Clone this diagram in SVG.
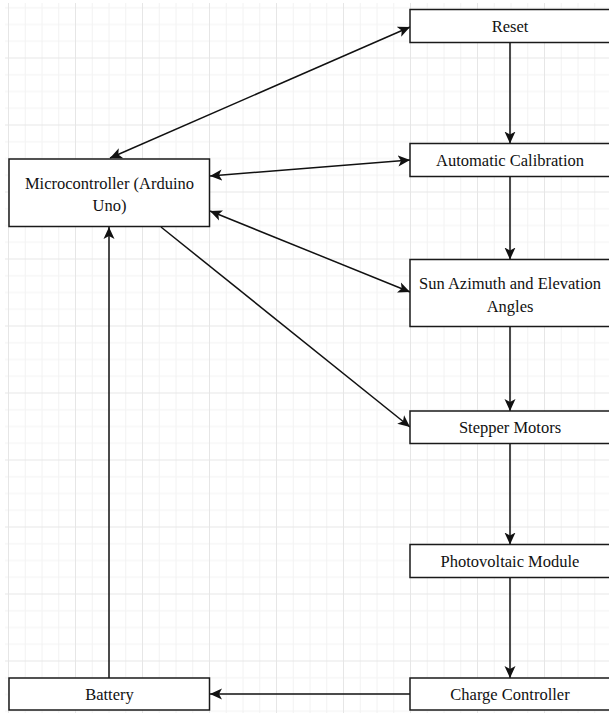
<svg xmlns="http://www.w3.org/2000/svg" width="609" height="713" viewBox="0 0 609 713">
<style>
  .box { fill: #ffffff; stroke: #1a1a1a; stroke-width: 1.5; }
  .lbl { font-family: 'Liberation Serif', 'DejaVu Serif', serif; font-size: 16.5px; fill: #111111; text-anchor: middle; }
  .edge { fill: none; stroke: #111111; stroke-width: 1.5; }
  .minor { stroke: #f2f2f2; stroke-width: 1; }
  .major { stroke: #e6e6e6; stroke-width: 1; }
</style>
<defs>
  <pattern id="grid" x="8" y="-9.5" width="67" height="67" patternUnits="userSpaceOnUse">
    <line class="minor" x1="17.25" y1="0" x2="17.25" y2="67"/>
    <line class="minor" x1="34" y1="0" x2="34" y2="67"/>
    <line class="minor" x1="50.75" y1="0" x2="50.75" y2="67"/>
    <line class="minor" x1="0" y1="17.25" x2="67" y2="17.25"/>
    <line class="minor" x1="0" y1="34" x2="67" y2="34"/>
    <line class="minor" x1="0" y1="50.75" x2="67" y2="50.75"/>
    <line class="major" x1="0.5" y1="0" x2="0.5" y2="67"/>
    <line class="major" x1="0" y1="0.5" x2="67" y2="0.5"/>
  </pattern>
  <marker id="arrow" markerUnits="userSpaceOnUse" markerWidth="13" markerHeight="12" refX="12" refY="5.5" orient="auto-start-reverse" viewBox="0 0 13 11">
    <path d="M0,0 L12,5.5 L0,11 L3,5.5 Z" fill="#111111"/>
  </marker>
</defs>
<rect x="0" y="0" width="609" height="713" fill="#ffffff"/>
<rect x="5" y="3" width="604" height="710" fill="url(#grid)"/>

<g id="connectors">
  <line class="edge" x1="110" y1="158" x2="410" y2="27" marker-start="url(#arrow)" marker-end="url(#arrow)"/>
  <line class="edge" x1="210" y1="176" x2="410" y2="160" marker-start="url(#arrow)" marker-end="url(#arrow)"/>
  <line class="edge" x1="210" y1="211" x2="410" y2="292" marker-start="url(#arrow)" marker-end="url(#arrow)"/>
  <line class="edge" x1="161" y1="227" x2="410" y2="427" marker-end="url(#arrow)"/>
  <line class="edge" x1="510" y1="42.5" x2="510" y2="143.5" marker-end="url(#arrow)"/>
  <line class="edge" x1="510" y1="176.5" x2="510" y2="259.5" marker-end="url(#arrow)"/>
  <line class="edge" x1="510" y1="326.5" x2="510" y2="411" marker-end="url(#arrow)"/>
  <line class="edge" x1="510" y1="443.5" x2="510" y2="544.5" marker-end="url(#arrow)"/>
  <line class="edge" x1="510" y1="577.5" x2="510" y2="678" marker-end="url(#arrow)"/>
  <line class="edge" x1="410" y1="694" x2="210" y2="694" marker-end="url(#arrow)"/>
  <line class="edge" x1="109" y1="678" x2="109" y2="227" marker-end="url(#arrow)"/>
</g>

<g id="node-reset">
  <rect class="box" x="410" y="9.5" width="202" height="33"/>
  <text class="lbl" x="510" y="32">Reset</text>
</g>
<g id="node-calibration">
  <rect class="box" x="410" y="143.5" width="202" height="33"/>
  <text class="lbl" x="510" y="166">Automatic Calibration</text>
</g>
<g id="node-microcontroller">
  <rect class="box" x="9" y="159" width="200.5" height="67.5"/>
  <text class="lbl" x="109.5" y="189">Microcontroller (Arduino</text>
  <text class="lbl" x="109.5" y="211">Uno)</text>
</g>
<g id="node-sun">
  <rect class="box" x="410" y="259.5" width="202" height="67"/>
  <text class="lbl" x="510" y="289">Sun Azimuth and Elevation</text>
  <text class="lbl" x="510" y="312">Angles</text>
</g>
<g id="node-stepper">
  <rect class="box" x="410" y="411" width="202" height="32.5"/>
  <text class="lbl" x="510" y="433">Stepper Motors</text>
</g>
<g id="node-pv">
  <rect class="box" x="410" y="544.5" width="202" height="33"/>
  <text class="lbl" x="510" y="567">Photovoltaic Module</text>
</g>
<g id="node-charge">
  <rect class="box" x="410" y="678" width="202" height="32"/>
  <text class="lbl" x="510" y="700">Charge Controller</text>
</g>
<g id="node-battery">
  <rect class="box" x="9" y="678" width="200.5" height="32"/>
  <text class="lbl" x="109.5" y="700">Battery</text>
</g>
</svg>
